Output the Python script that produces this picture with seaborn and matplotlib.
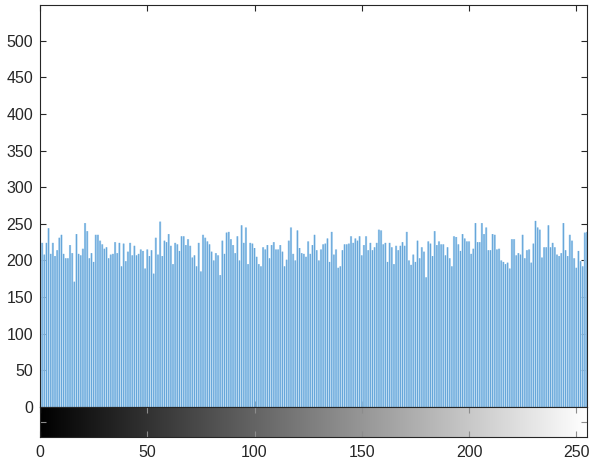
import numpy as np
import matplotlib
matplotlib.use('Agg')
import matplotlib.pyplot as plt
import seaborn as sns

# ---- gray-level counts, split in chunks ----
counts_a = [226, 224, 208, 224, 244, 209, 224, 206, 214, 231, 235, 209, 203, 203, 221,
            210, 171, 236, 209, 207, 216, 251, 240, 203, 210, 198, 235, 235, 227, 222,
            216, 218, 203, 208, 209, 225, 210, 224, 192, 223, 199, 212, 224, 207]
counts_b = [220, 207, 209, 215, 213, 189, 215, 206, 214, 182, 231, 208, 253, 206, 227,
            225, 236, 220, 195, 224, 222, 213, 233, 233, 221, 229, 220, 204, 207, 192,
            224, 185, 235, 231, 226, 222, 212, 200, 210, 207, 180, 227]
counts_c = [209, 238, 239, 229, 221, 210, 233, 200, 248, 224, 245, 195, 224, 223, 217,
            205, 195, 192, 218, 215, 221, 203, 221, 225, 215, 215, 221, 212, 192, 201,
            227, 245, 209, 200, 241, 217, 210, 209, 205, 226, 209, 221, 235, 214, 200]
counts_d = [215, 222, 223, 230, 198, 239, 208, 215, 190, 192, 214, 222, 222, 223, 233,
            224, 230, 227, 233, 207, 221, 233, 214, 224, 214, 218, 224, 242, 241, 222,
            224, 198, 224, 218, 195, 220, 214, 220, 225, 220, 239, 200, 194]
counts_e = [208, 198, 227, 203, 218, 212, 177, 226, 223, 206, 240, 221, 226, 222, 222,
            207, 218, 203, 192, 233, 232, 222, 213, 236, 230, 226, 226, 209, 216, 251,
            225, 225, 251, 236, 245, 214, 214, 236, 235, 215, 216, 200, 198, 195, 197]
counts_f = [189, 229, 229, 207, 210, 208, 235, 203, 214, 215, 197, 223, 254, 245, 242,
            204, 218, 218, 248, 218, 224, 218, 208, 206, 210, 251, 214, 206, 235, 227,
            203, 190, 213, 199, 192, 238, 239]

counts = np.array(counts_a + counts_b + counts_c + counts_d + counts_e + counts_f)
levels = np.arange(len(counts))

y_ticks = list(range(0, 501, 50))
x_ticks = list(range(0, 251, 50))

# ---- style ----
sns.set_style('white')
plt.rcParams['font.family'] = ['Liberation Sans', 'DejaVu Sans']
axis_col = '#262626'

W, H = 593, 461
fig = plt.figure(figsize=(W / 100, H / 100), dpi=100)

# histogram panel: light full-width bins + a thinner darker stem on top
ax = fig.add_axes([40 / W, (H - 407) / H, 547 / W, (407 - 5.5) / H])
sns.histplot(x=levels, weights=counts, discrete=True, shrink=1.0,
             color='#a8d0ee', alpha=1, edgecolor='none', linewidth=0,
             snap=False, ax=ax)
sns.histplot(x=levels, weights=counts, discrete=True, shrink=0.4,
             color='#5c9fd6', alpha=1, edgecolor='none', linewidth=0,
             snap=False, ax=ax)
ax.set_xlim(0, 255)
ax.set_ylim(0, 548)
ax.set_xlabel('')
ax.set_ylabel('')
ax.set_yticks(y_ticks)
ax.set_xticks(x_ticks)
ax.tick_params(axis='x', labelbottom=False, direction='in', length=4,
               top=True, bottom=True, color=axis_col)
ax.tick_params(axis='y', direction='in', length=4, left=True, right=True,
               labelsize=11.5, labelcolor=axis_col, color=axis_col, pad=5)
for s in ax.spines.values():
    s.set_color(axis_col)
    s.set_linewidth(0.8)

# gray colour bar underneath
cax = fig.add_axes([40 / W, (H - 437) / H, 547 / W, 30 / H])
cax.imshow(levels[None, :], cmap='gray', aspect='auto',
           extent=(-0.5, 255.5, 0, 1), interpolation='bilinear')
cax.set_xlim(0, 255)
cax.set_ylim(0, 1)
cax.set_xticks(x_ticks)
cax.set_yticks([0.5])
cax.set_yticklabels([])
cax.tick_params(axis='x', direction='in', length=4, top=True, bottom=True,
                labelsize=11.5, labelcolor=axis_col, color='#8c8c8c', pad=6)
cax.tick_params(axis='y', direction='in', length=4, left=True, right=True,
                color='#8c8c8c')
for s in cax.spines.values():
    s.set_color(axis_col)
    s.set_linewidth(0.8)

fig.savefig('out.png', dpi=100)
